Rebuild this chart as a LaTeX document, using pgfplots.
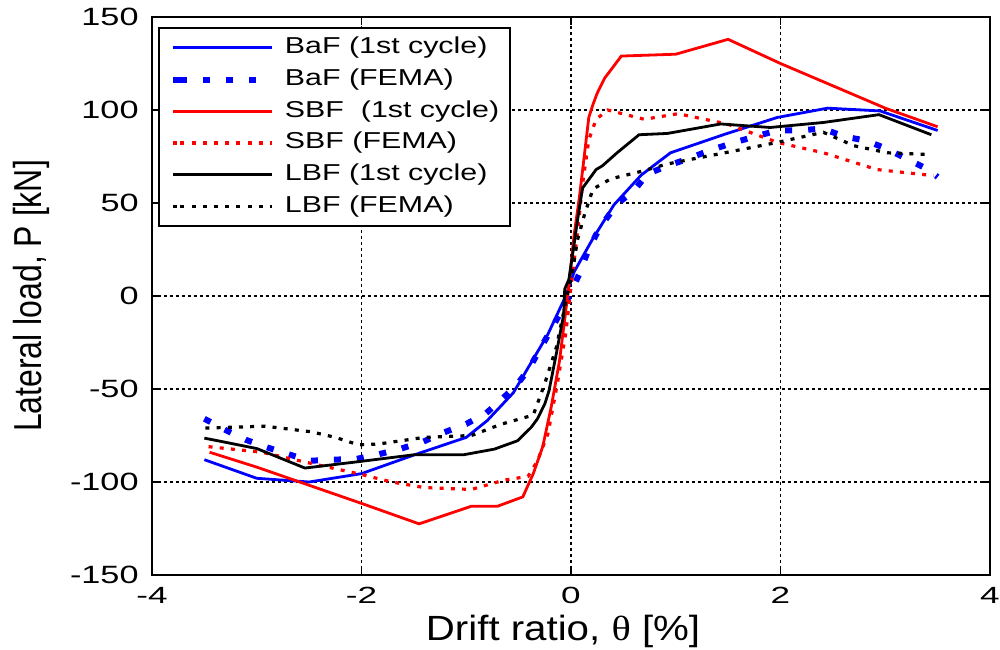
\documentclass[border=0pt]{standalone}
\usepackage{fontspec}
\setmainfont{Liberation Sans}
\newfontfamily\symfont{Liberation Serif}
\usepackage{graphicx}
\usepackage{pgfplots}
\pgfplotsset{compat=1.18}
\definecolor{mblue}{RGB}{0,0,255}
\definecolor{mred}{RGB}{255,0,0}
\begin{document}
\begin{tikzpicture}
\useasboundingbox (-76pt,-37pt) rectangle (424pt,287.5pt);
\begin{axis}[
  at={(0,0)}, anchor=south west,
  scale only axis, width=419pt, height=279pt,
  xmin=-4, xmax=4, ymin=-150, ymax=150,
  xtick={-4,-2,0,2,4}, ytick={-150,-100,-50,0,50,100,150},
  grid=major,
  major grid style={black, line width=0.7pt, dash pattern=on 1.5pt off 1.5pt},
  axis line style={black, line width=1pt},
  major tick length=4pt,
  tick style={black, line width=0.8pt},
  xticklabel={\scalebox{1.5}[1]{\pgfmathprintnumber[assume math mode=true]{\tick}}},
  yticklabel={\scalebox{1.37}[1]{\pgfmathprintnumber[assume math mode=true]{\tick}}},
  xticklabel style={font=\fontsize{11.7}{13}\selectfont, inner sep=0pt, anchor=north, yshift=-6pt},
  yticklabel style={font=\fontsize{12.5}{14}\selectfont, inner sep=0pt, anchor=east, xshift=-6.5pt},
  xlabel={\scalebox{1.15}[1]{Drift ratio, {\symfont θ} [\%]}},
  xlabel style={font=\fontsize{17.5}{20}\selectfont, at={(axis description cs:0.4905,-0.1165)}, anchor=base, inner sep=0pt},
  ylabel={\scalebox{0.82}[1]{Lateral load, P [kN]}},
  ylabel style={font=\fontsize{19.5}{22}\selectfont, at={(axis description cs:-0.1313,0.5)}, anchor=base, inner sep=0pt},
  legend style={at={(axis description cs:0,1)}, anchor=north west, xshift=3pt, yshift=-5pt,
    draw=black, line width=1pt, fill=white, inner xsep=5.5pt, inner ysep=4.4pt,
    font=\fontsize{11.5}{13}\selectfont, row sep=4.85pt, column sep=5pt,
    nodes={inner sep=0pt, text height=8.5pt, text depth=2.5pt}},
  legend cell align=left,
  legend image code/.code={\path (0pt,0pt) -- (3.7pt,0pt); \draw[#1] (3.7pt,0pt) -- (49.5pt,0pt);},
]
% BaF 1st cycle
\addplot[mblue, line width=1.4pt] coordinates {
(-3.5,-88) (-3.0,-98) (-2.5,-100) (-2.0,-95.5) (-1.5,-85.5) (-1.0,-76) (-0.8,-67) (-0.55,-52)
(-0.22,-20.5) (-0.05,0) (0.03,13) (0.2,30) (0.41,49) (0.67,65) (0.95,77) (1.47,87) (1.97,96)
(2.45,101) (2.95,99.5) (3.5,89)};
\addlegendentry{\scalebox{1.32}[1]{BaF (1st cycle)}}
% BaF FEMA
\addplot[mblue, line width=3pt, dash pattern=on 3.5pt off 8pt] coordinates {
(-3.5,-66) (-3.3,-72) (-3.1,-77.4) (-2.9,-81.4) (-2.7,-85) (-2.5,-88.6) (-2.27,-88) (-2.05,-87.6)
(-1.83,-85) (-1.62,-82) (-1.41,-78.3) (-1.21,-73.3) (-1.0,-68.8) (-0.81,-63) (-0.67,-56) (-0.52,-48)
(-0.4,-39) (-0.25,-24) (-0.1,-9) (0,2) (0.08,12) (0.16,24) (0.24,33) (0.33,41) (0.44,49.5)
(0.6,56.6) (0.73,65.6) (0.92,70) (1.11,73.6) (1.31,78) (1.56,82.6) (1.75,85.6) (1.97,89) (2.17,89)
(2.4,90) (2.62,85.6) (2.82,83.5) (3.02,79) (3.21,73.6) (3.41,68) (3.5,64)};
\addlegendentry{\scalebox{1.32}[1]{BaF (FEMA)}}
% SBF 1st cycle
\addplot[mred, line width=1.4pt] coordinates {
(-3.45,-84) (-3.0,-92) (-2.0,-111.5) (-1.45,-122.5) (-0.95,-113) (-0.7,-113) (-0.46,-108)
(-0.36,-95.5) (-0.27,-81) (-0.19,-60) (-0.11,-35) (-0.05,-8) (-0.02,6) (0.03,33) (0.08,53)
(0.17,96) (0.21,103) (0.25,109) (0.32,117) (0.48,129) (1.0,130) (1.5,138) (2.0,125) (2.5,113)
(3.0,101) (3.5,91)};
\addlegendentry{\scalebox{1.32}[1]{SBF\ \ (1st cycle)}}
% SBF FEMA
\addplot[mred, line width=1.6pt, dash pattern=on 2pt off 3.6pt] coordinates {
(-3.46,-81) (-2.95,-84) (-2.48,-90) (-2.02,-95.7) (-1.71,-100) (-1.4,-103) (-0.95,-104)
(-0.64,-99) (-0.41,-97) (-0.32,-88.6) (-0.22,-74) (-0.13,-47) (-0.05,-20) (0.0,5) (0.06,33)
(0.11,60) (0.17,84) (0.24,95) (0.35,100) (0.7,95) (1.02,98) (1.49,92.5) (1.97,82.6) (2.41,77)
(2.92,68) (3.46,64.7)};
\addlegendentry{\scalebox{1.32}[1]{SBF (FEMA)}}
% LBF 1st cycle
\addplot[black, line width=1.4pt] coordinates {
(-3.5,-76.4) (-3.0,-82) (-2.54,-92.5) (-2.02,-89) (-1.49,-85.3) (-1.02,-85.3) (-0.73,-82.3)
(-0.51,-77.8) (-0.38,-70.6) (-0.32,-66) (-0.25,-58) (-0.21,-51) (-0.14,-31) (-0.07,-10)
(-0.06,3.7) (-0.02,9) (0.03,28) (0.06,40) (0.11,58) (0.24,68) (0.30,70) (0.44,77) (0.65,86.7)
(0.92,87.4) (1.43,92.5) (1.9,90.6) (2.41,93.3) (2.94,97.5) (3.44,86.7)};
\addlegendentry{\scalebox{1.32}[1]{LBF (1st cycle)}}
% LBF FEMA
\addplot[black, line width=1.6pt, dash pattern=on 2pt off 3.6pt] coordinates {
(-3.49,-71) (-2.92,-70) (-2.48,-73) (-2.25,-76) (-2.03,-80) (-1.84,-79.6) (-1.4,-76)
(-0.95,-75) (-0.67,-69) (-0.36,-64) (-0.25,-47) (-0.14,-27.6) (-0.06,-6) (0.02,15) (0.06,29.7)
(0.13,44) (0.21,57.5) (0.38,63) (0.67,67) (0.92,71) (1.24,74.5) (1.56,78) (1.97,82.6) (2.41,88)
(2.7,80.8) (3.02,77) (3.44,76)};
\addlegendentry{\scalebox{1.32}[1]{LBF (FEMA)}}
\end{axis}
\end{tikzpicture}
\end{document}
